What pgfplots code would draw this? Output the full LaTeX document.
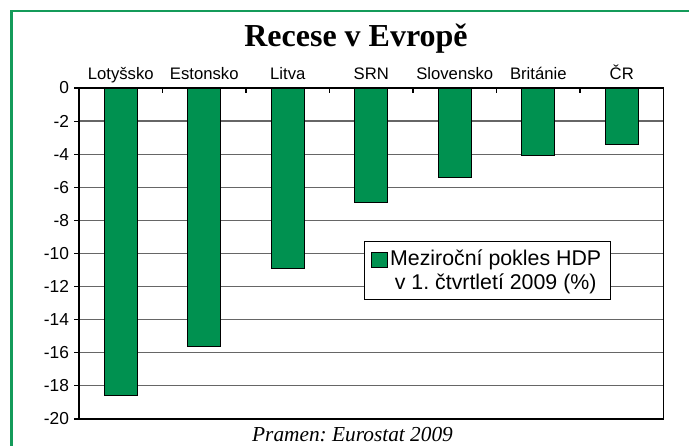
\documentclass[border=0pt]{standalone}
\usepackage{fontspec}
\setmainfont{Liberation Sans}
\newfontfamily\serifont{Liberation Serif}
\usepackage{pgfplots}
\pgfplotsset{compat=1.18}
\definecolor{barg}{RGB}{0,145,80}
\definecolor{frameg}{RGB}{20,155,90}
\frenchspacing
\begin{document}
\begin{tikzpicture}
\useasboundingbox (0,0) rectangle (516.75pt,334.5pt);
\draw[frameg, line width=1.9pt] (8.8pt,-10pt) -- (8.8pt,326.25pt) -- (530pt,326.25pt);
\begin{axis}[
  at={(59.25pt,20.25pt)}, anchor=south west,
  scale only axis, width=438.4pt, height=248.25pt,
  ybar, bar width=24.5pt,
  xmin=-0.5, xmax=6.5, ymin=-20, ymax=0,
  enlarge x limits=false, enlarge y limits=false,
  xtick={0.5,1.5,2.5,3.5,4.5,5.5},
  xticklabels={},
  xtick pos=upper,
  extra x ticks={0,...,6},
  extra x tick labels={Lotyšsko,Estonsko,Litva,SRN,Slovensko,Británie,ČR},
  extra x tick style={major tick length=0pt, xticklabel pos=upper},
  ytick={-20,-18,...,0},
  ytick pos=left, tick align=inside,
  major x tick style={draw=black, line width=0.8pt},
  major y tick style={draw=black, line width=0.8pt, xshift=-3.5pt},
  major tick length=3.5pt,
  ymajorgrids,
  grid style={draw=black!60, line width=0.9pt},
  axis line style={black, line width=1.2pt},
  xticklabel style={font=\fontsize{12.5}{15}\selectfont, text depth=2.5pt},
  yticklabel style={font=\fontsize{13}{15}\selectfont, xshift=-4pt},
  /pgf/number format/assume math mode=true,
  legend style={at={(rel axis cs:0.4876,0.5378)}, anchor=north west,
    draw=black, line width=0.8pt, fill=white,
    font=\fontsize{16}{18.5}\selectfont,
    inner xsep=5pt, inner ysep=4pt,
    cells={align=center}},
  legend image code/.code={\draw[fill=barg, draw=black, line width=0.7pt] (0pt,2.5pt) rectangle (11.5pt,13.5pt);},
]
\addplot[fill=barg, draw=black, line width=0.8pt] coordinates {
  (0,-18.6) (1,-15.6) (2,-10.9) (3,-6.9) (4,-5.4) (5,-4.1) (6,-3.4)
};
\addlegendentry{Meziroční pokles HDP\\v 1. čtvrtletí 2009 (\%)}
\end{axis}
\node[anchor=base, font=\serifont\bfseries\fontsize{24}{28}\selectfont] at (267pt,299.25pt) {Recese v Evropě};
\node[anchor=base, font=\serifont\itshape\fontsize{16}{19}\selectfont] at (264.4pt,3pt) {Pramen: Eurostat 2009};
\end{tikzpicture}
\end{document}
